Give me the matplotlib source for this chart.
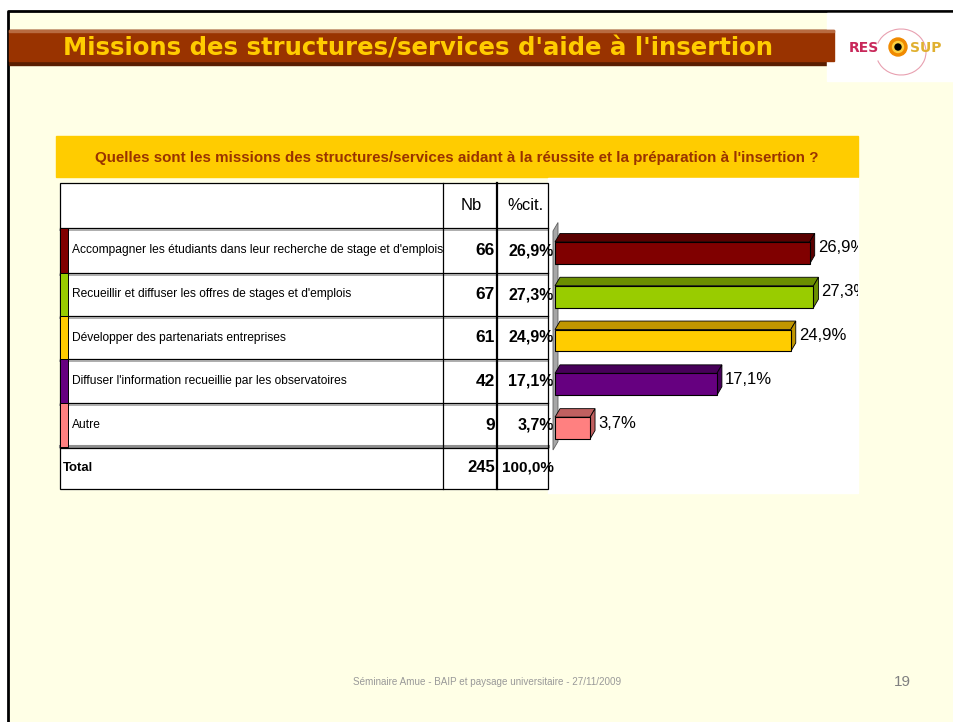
import matplotlib
matplotlib.use('Agg')
import matplotlib.pyplot as plt
from matplotlib import font_manager
from matplotlib.patches import Rectangle, Polygon, Circle, Arc

categories = [
    "Accompagner les étudiants dans leur recherche de stage et d'emplois",
    "Recueillir et diffuser les offres de stages et d'emplois",
    "Développer des partenariats entreprises",
    "Diffuser l'information recueillie par les observatoires",
    "Autre",
]
counts = [66, 67, 61, 42, 9]
percents = [26.9, 27.3, 24.9, 17.1, 3.7]
total_count = 245
total_pct = 100.0
bar_colors = ['#800000', '#99CC00', '#FFCC00', '#660080', '#FF8080']
shade_colors = ['#5A0000', '#6B8F00', '#C09600', '#470059', '#C06060']

title = "Missions des structures/services d'aide à l'insertion"
question = "Quelles sont les missions des structures/services aidant à la réussite et la préparation à l'insertion ?"
footer = "Séminaire Amue - BAIP et paysage universitaire - 27/11/2009"
page_num = "19"


def fr_pct(v):
    return f"{v:.1f}".replace('.', ',') + '%'


# police étroite si dispo
names = set(f.name for f in font_manager.fontManager.ttflist)
NARROW = 'Liberation Sans Narrow' if 'Liberation Sans Narrow' in names else 'Liberation Sans'

W, H = 954, 722
fig = plt.figure(figsize=(W / 100, H / 100), dpi=100)
fig.patch.set_facecolor('white')
renderer = fig.canvas.get_renderer()


def fit_width(txt, width_px):
    w = txt.get_window_extent(renderer=renderer).width
    txt.set_fontsize(txt.get_fontsize() * width_px / w)


# Axe de fond en pixels pour la diapo
bg = fig.add_axes([0, 0, 1, 1])
bg.set_xlim(0, W)
bg.set_ylim(H, 0)
bg.axis('off')

# fond crème + bordure
bg.add_patch(Rectangle((9, 12), W - 9, H - 12, color='#FFFFE6', zorder=0))
bg.plot([8.5, 8.5, W], [H, 11, 11], color='black', lw=2, zorder=1)

# bandeau titre
bg.add_patch(Rectangle((9, 30), 828, 35, color='#5A1E00', zorder=1))
bg.add_patch(Rectangle((9, 30), 825, 31, color='#993300', zorder=2))
bg.add_patch(Rectangle((9, 30), 825, 2, color='#B86A40', zorder=2))
t = bg.text(63, 48, title, color='#FFCC00', fontsize=16, fontweight='bold',
            family='DejaVu Sans', ha='left', va='center', zorder=3)
fit_width(t, 715)

# logo
bg.add_patch(Rectangle((827, 13), 127, 68, color='white', zorder=1))
bg.add_patch(Arc((901, 52), 50, 46, theta1=200, theta2=520, color='#E8A0B0', lw=0.8, zorder=2))
bg.text(864, 48, 'RES', color='#C8285A', fontsize=10, fontweight='bold',
        family='DejaVu Sans', ha='center', va='center', zorder=3)
bg.add_patch(Circle((898, 47), 9, color='#F08A00', zorder=3))
bg.add_patch(Circle((898, 47), 5.5, color='#FFD040', zorder=3))
bg.add_patch(Circle((898, 47), 3, color='black', zorder=4))
bg.text(910, 48, 'SUP', color='#E0B030', fontsize=10, fontweight='bold',
        family='DejaVu Sans', ha='left', va='center', zorder=3)

# bandeau question
bg.add_patch(Rectangle((56, 136), 802, 41, color='#FFCC00', zorder=1))
t = bg.text(457, 158, question, color='#993300', fontsize=12, fontweight='bold',
            family=NARROW, ha='center', va='center', zorder=2)
fit_width(t, 720)

# zone blanche du graphique + tableau
bg.add_patch(Rectangle((548, 178), 310, 315, color='white', zorder=1))
bg.add_patch(Rectangle((60, 183), 488, 306, color='white', zorder=1))

row_edges = [183, 228, 273, 316, 359, 403, 447, 489]
x_left, x_nb, x_pct, x_right = 60, 443, 497, 548

for y in row_edges[1:-2]:
    bg.plot([x_left, x_right], [y, y], color='black', lw=0.9, zorder=3)
    bg.plot([x_left, x_right], [y + 2, y + 2], color='#A0A0A0', lw=1.2, zorder=3)
bg.plot([x_left, x_right], [row_edges[-2] - 1.5, row_edges[-2] - 1.5], color='#909090', lw=2.2, zorder=3)
bg.plot([x_left, x_right], [row_edges[-2] + 0.5, row_edges[-2] + 0.5], color='black', lw=0.9, zorder=3)
bg.add_patch(Rectangle((x_left, row_edges[0]), x_right - x_left, row_edges[-1] - row_edges[0],
                       fill=False, ec='black', lw=0.9, zorder=4))
bg.plot([x_nb, x_nb], [row_edges[0], row_edges[-1]], color='black', lw=0.9, zorder=4)
bg.plot([x_pct, x_pct], [row_edges[0], row_edges[-1]], color='black', lw=1.6, zorder=4)

centers = [(a + b) / 2 for a, b in zip(row_edges[:-1], row_edges[1:])]

bg.text(471, centers[0], 'Nb', fontsize=12, family=NARROW, ha='center', va='center', zorder=5)
bg.text(525, centers[0], '%cit.', fontsize=12, family=NARROW, ha='center', va='center', zorder=5)

label_size = None
for i, (cat, n, p, col) in enumerate(zip(categories, counts, percents, bar_colors)):
    y0, y1 = row_edges[i + 1], row_edges[i + 2]
    bg.add_patch(Rectangle((x_left, y0), 8, y1 - y0, color=col, ec='black', lw=0.7, zorder=4))
    yc = centers[i + 1]
    t = bg.text(72, yc, cat, fontsize=12, family=NARROW, ha='left', va='center', zorder=5)
    if label_size is None:
        fit_width(t, 371)
        label_size = t.get_fontsize()
    else:
        t.set_fontsize(label_size)
    bg.text(495, yc, str(n), fontsize=12.5, fontweight='bold', family=NARROW,
            ha='right', va='center', zorder=5)
    bg.text(554, yc, fr_pct(p), fontsize=11.5, fontweight='bold', family=NARROW,
            ha='right', va='center', zorder=5)

yc = centers[-1]
t = bg.text(63, yc, 'Total', fontsize=12, fontweight='bold', family=NARROW, ha='left', va='center', zorder=5)
fit_width(t, 30)
bg.text(495, yc, str(total_count), fontsize=12, fontweight='bold', family=NARROW,
        ha='right', va='center', zorder=5)
bg.text(554, yc, fr_pct(total_pct), fontsize=11, fontweight='bold', family=NARROW,
        ha='right', va='center', zorder=5)

# pied de page
t = bg.text(487, 682, footer, color='#999999', fontsize=8, family=NARROW, ha='center', va='center')
fit_width(t, 269)
bg.text(902, 682, page_num, color='#808080', fontsize=11, family=NARROW, ha='center', va='center')

# Graphique en barres "3D"
ax_l, ax_r = 555, 858
ax_t, ax_b = 231, 450
ax = fig.add_axes([ax_l / W, 1 - ax_b / H, (ax_r - ax_l) / W, (ax_b - ax_t) / H])
ax.patch.set_alpha(0)
xmax = 32
n_cat = len(categories)
ax.set_xlim(0, xmax)
ax.set_ylim(n_cat - 0.5, -0.5)
ax.axis('off')

px_x = (ax_r - ax_l) / xmax
px_y = (ax_b - ax_t) / n_cat
dx = 5 / px_x
dy = 8.5 / px_y
bh = 0.5

# paroi grise à gauche
x0 = -2 / px_x
ax.add_patch(Polygon([(x0, n_cat - 0.5), (x0 + dx, n_cat - 0.5 - dy), (x0 + dx, -0.5 - dy), (x0, -0.5)],
                     closed=True, fc='#A6A6A6', ec='#606060', lw=0.6, clip_on=False, zorder=1))

ypos = list(range(n_cat))
ax.barh(ypos, percents, height=bh, color=bar_colors, edgecolor='black', linewidth=0.8, zorder=3)
for y, p, sc in zip(ypos, percents, shade_colors):
    yt = y - bh / 2
    yb = y + bh / 2
    ax.add_patch(Polygon([(0, yt), (p, yt), (p + dx, yt - dy), (dx, yt - dy)], closed=True,
                         fc=sc, ec='black', lw=0.6, clip_on=False, zorder=2))
    ax.add_patch(Polygon([(p, yt), (p + dx, yt - dy), (p + dx, yb - dy), (p, yb)], closed=True,
                         fc=sc, ec='black', lw=0.6, clip_on=False, zorder=2))
    ax.text(p + dx + 3 / px_x, y - 5 / px_y, fr_pct(p), fontsize=12, family=NARROW,
            ha='left', va='center', clip_on=True, zorder=4)

fig.savefig('out.png', dpi=100, facecolor=fig.get_facecolor())
